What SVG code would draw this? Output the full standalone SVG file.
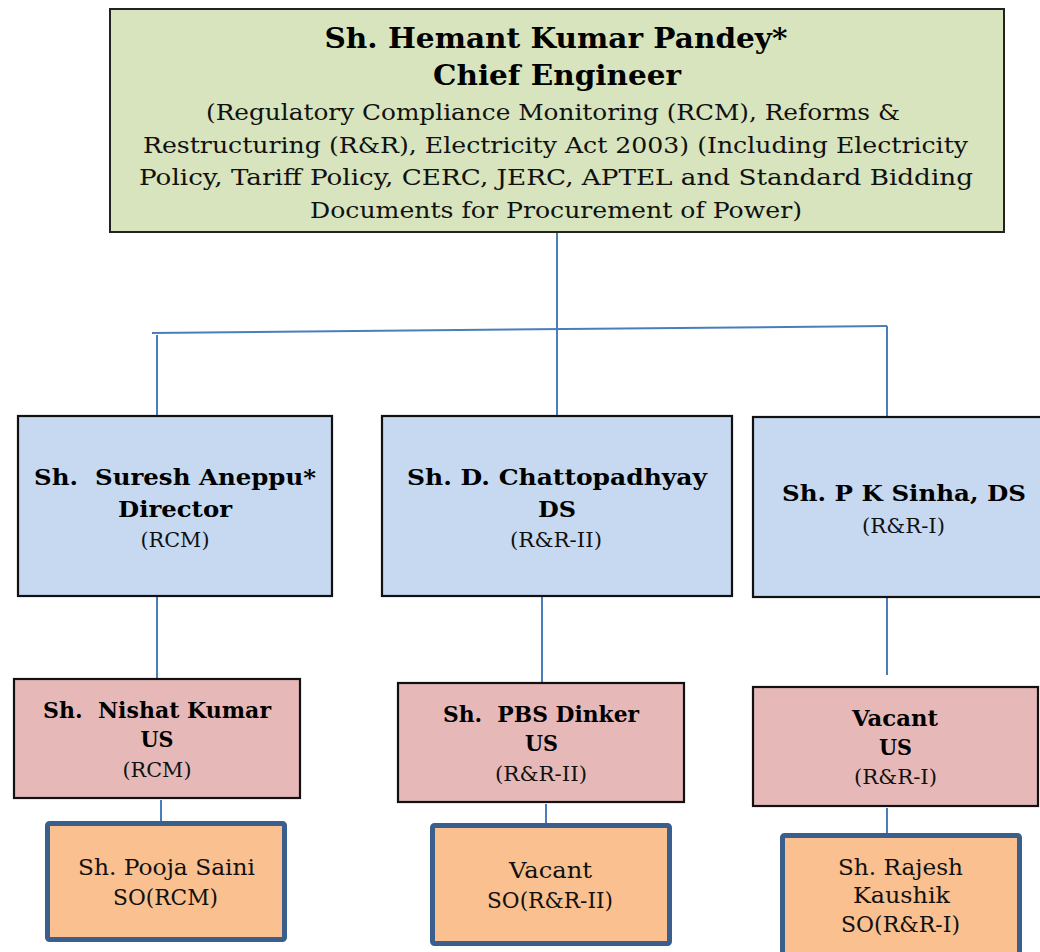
<svg xmlns="http://www.w3.org/2000/svg" width="1040" height="952" viewBox="0 0 1040 952">
<style>
.b{font-family:"DejaVu Serif","Liberation Serif",serif;font-weight:bold;fill:#000;text-anchor:middle}
.r{font-family:"DejaVu Serif","Liberation Serif",serif;fill:#111;text-anchor:middle}
.top{fill:#d7e4bd;stroke:#222;stroke-width:2}
.l2{fill:#c6d9f1;stroke:#111;stroke-width:2.2}
.l3{fill:#e6b9b8;stroke:#111;stroke-width:2.2}
.l4{fill:#fac090;stroke:#3a5f8c;stroke-width:5}
.c{stroke:#4a7ebb;stroke-width:2;fill:none}
</style>
<rect width="1040" height="952" fill="#fff"/>
<g id="connectors">
<line class="c" x1="557" y1="233" x2="557" y2="415"/>
<line class="c" x1="152" y1="333" x2="887" y2="326"/>
<line class="c" x1="157" y1="335" x2="157" y2="415"/>
<line class="c" x1="887" y1="326" x2="887" y2="420"/>
<line class="c" x1="157" y1="597" x2="157" y2="678"/>
<line class="c" x1="542" y1="597" x2="542" y2="682"/>
<line class="c" x1="887" y1="598" x2="887" y2="675"/>
<line class="c" x1="161" y1="800" x2="161" y2="821"/>
<line class="c" x1="546" y1="804" x2="546" y2="823"/>
<line class="c" x1="887" y1="808" x2="887" y2="835"/>
</g>
<g id="chief">
<rect class="top" x="110" y="9" width="894" height="223"/>
<text class="b" x="556" y="48" font-size="27" textLength="463" lengthAdjust="spacingAndGlyphs">Sh. Hemant Kumar Pandey*</text>
<text class="b" x="557" y="85" font-size="27" textLength="248" lengthAdjust="spacingAndGlyphs">Chief Engineer</text>
<text class="r" x="553" y="120" font-size="23" textLength="694" lengthAdjust="spacingAndGlyphs">(Regulatory Compliance Monitoring (RCM), Reforms &amp;</text>
<text class="r" x="555.5" y="152.5" font-size="23" textLength="825" lengthAdjust="spacingAndGlyphs">Restructuring (R&amp;R), Electricity Act 2003) (Including Electricity</text>
<text class="r" x="556" y="185" font-size="23" textLength="834" lengthAdjust="spacingAndGlyphs">Policy, Tariff Policy, CERC, JERC, APTEL and Standard Bidding</text>
<text class="r" x="556" y="217.5" font-size="23" textLength="492" lengthAdjust="spacingAndGlyphs">Documents for Procurement of Power)</text>
</g>
<g id="director-rcm">
<rect class="l2" x="18" y="416" width="314" height="180"/>
<text class="b" x="175" y="485" font-size="22" xml:space="preserve" textLength="282" lengthAdjust="spacingAndGlyphs">Sh.  Suresh Aneppu*</text>
<text class="b" x="175" y="517" font-size="22" textLength="114" lengthAdjust="spacingAndGlyphs">Director</text>
<text class="r" x="175" y="547" font-size="21" textLength="69" lengthAdjust="spacingAndGlyphs">(RCM)</text>
</g>
<g id="ds-rr2">
<rect class="l2" x="382" y="416" width="350" height="180"/>
<text class="b" x="557" y="485" font-size="22" textLength="300" lengthAdjust="spacingAndGlyphs">Sh. D. Chattopadhyay</text>
<text class="b" x="557" y="517" font-size="22" textLength="38" lengthAdjust="spacingAndGlyphs">DS</text>
<text class="r" x="556" y="547" font-size="21" textLength="92" lengthAdjust="spacingAndGlyphs">(R&amp;R-II)</text>
</g>
<g id="ds-rr1">
<rect class="l2" x="753" y="417" width="300" height="180"/>
<text class="b" x="904" y="501" font-size="22" textLength="244" lengthAdjust="spacingAndGlyphs">Sh. P K Sinha, DS</text>
<text class="r" x="903.5" y="533" font-size="21" textLength="83" lengthAdjust="spacingAndGlyphs">(R&amp;R-I)</text>
</g>
<g id="us-rcm">
<rect class="l3" x="14" y="679" width="286" height="119"/>
<text class="b" x="157" y="718" font-size="22" xml:space="preserve" textLength="228" lengthAdjust="spacingAndGlyphs">Sh.  Nishat Kumar</text>
<text class="b" x="157" y="747" font-size="22" textLength="33" lengthAdjust="spacingAndGlyphs">US</text>
<text class="r" x="157" y="777" font-size="21" textLength="69" lengthAdjust="spacingAndGlyphs">(RCM)</text>
</g>
<g id="us-rr2">
<rect class="l3" x="398" y="683" width="286" height="119"/>
<text class="b" x="541" y="722" font-size="22" xml:space="preserve" textLength="196" lengthAdjust="spacingAndGlyphs">Sh.  PBS Dinker</text>
<text class="b" x="541.5" y="751" font-size="22" textLength="33" lengthAdjust="spacingAndGlyphs">US</text>
<text class="r" x="541" y="781" font-size="21" textLength="92" lengthAdjust="spacingAndGlyphs">(R&amp;R-II)</text>
</g>
<g id="us-rr1">
<rect class="l3" x="753" y="687" width="285" height="119"/>
<text class="b" x="895" y="726" font-size="22" textLength="86" lengthAdjust="spacingAndGlyphs">Vacant</text>
<text class="b" x="895.5" y="755" font-size="22" textLength="33" lengthAdjust="spacingAndGlyphs">US</text>
<text class="r" x="895.5" y="784" font-size="21" textLength="83" lengthAdjust="spacingAndGlyphs">(R&amp;R-I)</text>
</g>
<g id="so-rcm">
<rect class="l4" x="47.5" y="823.5" width="237" height="116" rx="2"/>
<text class="r" x="166.5" y="875" font-size="22" textLength="177" lengthAdjust="spacingAndGlyphs">Sh. Pooja Saini</text>
<text class="r" x="165.5" y="905" font-size="22" textLength="105" lengthAdjust="spacingAndGlyphs">SO(RCM)</text>
</g>
<g id="so-rr2">
<rect class="l4" x="432.5" y="825.5" width="237" height="118" rx="2"/>
<text class="r" x="550.5" y="878" font-size="22" textLength="83" lengthAdjust="spacingAndGlyphs">Vacant</text>
<text class="r" x="550" y="908" font-size="22" textLength="126" lengthAdjust="spacingAndGlyphs">SO(R&amp;R-II)</text>
</g>
<g id="so-rr1">
<rect class="l4" x="782.5" y="835.5" width="237" height="130" rx="2"/>
<text class="r" x="900.5" y="875" font-size="22" textLength="125" lengthAdjust="spacingAndGlyphs">Sh. Rajesh</text>
<text class="r" x="901.5" y="903" font-size="22" textLength="97" lengthAdjust="spacingAndGlyphs">Kaushik</text>
<text class="r" x="900.5" y="932" font-size="22" textLength="119" lengthAdjust="spacingAndGlyphs">SO(R&amp;R-I)</text>
</g>
</svg>
